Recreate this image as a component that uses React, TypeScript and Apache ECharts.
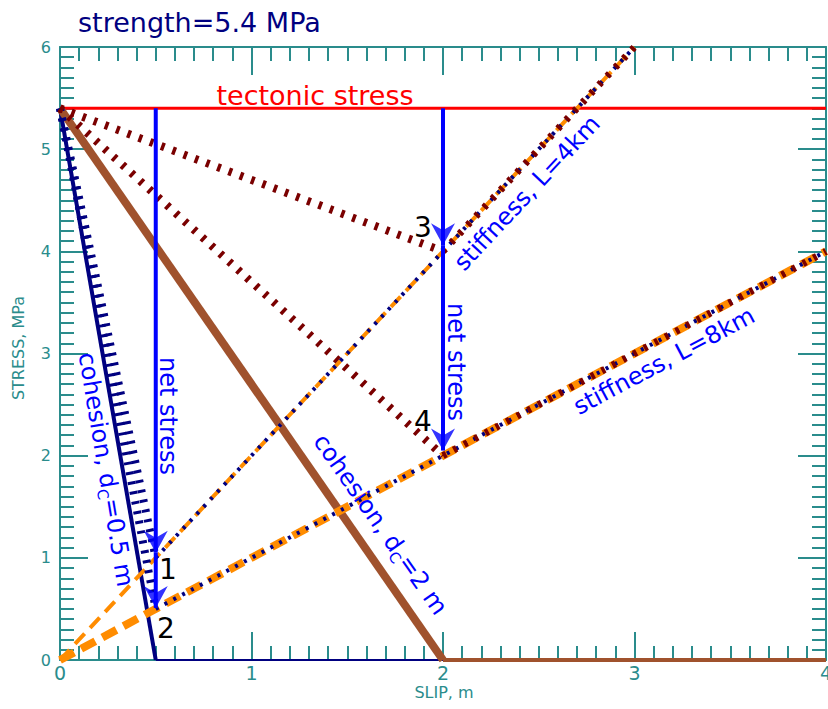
import React, { useEffect, useRef } from "react";
import * as echarts from "echarts";

// ---- data ----
const xTicks = [0, 1, 2, 3, 4];
const yTicks = [0, 1, 2, 3, 4, 5, 6];
const strength = 5.4;
const tectonic = [[0, strength], [4, strength]];
const cohesionShort = [[0, strength], [0.5, 0]]; // d_c = 0.5 m
const cohesionShortFloor = [[0.5, 0], [4, 0]];
const cohesionLong = [[0, strength], [2, 0]]; // d_c = 2 m
const cohesionLongFloor = [[2, 0], [4, 0]];
const stiff4 = [[0, 0], [3, 6]]; // L = 4 km
const stiff8 = [[0, 0], [4, 4]]; // L = 8 km
const hatch1 = [[0, strength], [0.5, 1.0]];
const hatch2 = [[0, strength], [0.5, 0.5]];
const navyOn4 = [[0.5, 1.0], [3, 6]];
const navyOn8 = [[0.5, 0.5], [4, 4]];
const maroon3 = [[0, strength], [2, 4]];
const maroon3up = [[2, 4], [3, 6]];
const maroon4 = [[0, strength], [2, 2]];
const maroon4up = [[2, 2], [4, 4]];
const arrowShafts = [
  [[0.5, strength], [0.5, 1.05]],
  [[0.5, 1.05], [0.5, 0.51]],
  [[2, strength], [2, 4.06]],
  [[2, 4.06], [2, 2.05]],
];
const arrowTips = [[0.5, 1.05], [0.5, 0.51], [2, 4.06], [2, 2.05]];

const TEAL = "#2a8c8c";
const NAVY = "#000080";
const BLUE = "#0000ff";
const ORANGE = "#ff8c00";
const MAROON = "#7a0000";
const BROWN = "#a0522d";
const FONT = "DejaVu Sans";

function ln(data: number[][], color: string, width: number, type: any, z: number) {
  return {
    type: "line",
    data,
    symbol: "none",
    showSymbol: false,
    silent: true,
    z,
    lineStyle: { color, width, type, cap: "butt", join: "miter" },
  };
}

function axisCommon(showLabel: boolean) {
  return {
    type: "value",
    min: 0,
    interval: 1,
    axisLine: { show: true, onZero: false, lineStyle: { color: TEAL, width: 2 } },
    axisTick: { show: true, inside: true, length: 28, lineStyle: { color: TEAL, width: 2 } },
    minorTick: { show: true, splitNumber: 10, length: 14, lineStyle: { color: TEAL, width: 2 } },
    splitLine: { show: false },
    axisLabel: { show: showLabel, color: TEAL, fontSize: 17, fontFamily: FONT },
  };
}

const deg = Math.PI / 180;

export default function App() {
  const ref = useRef<HTMLDivElement>(null);
  useEffect(() => {
    if (!ref.current) return;
    const chart = echarts.init(ref.current, undefined, { renderer: "svg" });
    const series: any[] = [
      ln(tectonic, "#ff0000", 3, "solid", 2),
      ln(cohesionShort, NAVY, 4, "solid", 3),
      ln(cohesionShortFloor, NAVY, 2, "solid", 3),
      ln(cohesionLong, BROWN, 8, "solid", 4),
      ln(cohesionLongFloor, BROWN, 4, "solid", 4),
      ln(stiff4, ORANGE, 4, [14, 8], 5),
      ln(stiff8, ORANGE, 8, [16, 8], 5),
      ln(hatch1, NAVY, 8, [3, 7], 6),
      ln(hatch2, NAVY, 8, [3, 7], 6),
      ln(navyOn4, NAVY, 4, [3, 7], 6),
      ln(navyOn8, NAVY, 4, [3, 7], 6),
      ln(maroon3, MAROON, 8, [3.5, 8.5], 7),
      ln(maroon4, MAROON, 8, [3.5, 8.5], 7),
      ln(maroon3up, MAROON, 7, [3.5, 8.5], 7),
      ln(maroon4up, MAROON, 7, [3.5, 8.5], 7),
      ...arrowShafts.map((s) => ln(s, BLUE, 4, "solid", 8)),
      {
        type: "scatter",
        data: arrowTips,
        symbol: "path://M0,0 L12,7 L24,0 L12,22 Z",
        symbolSize: [24, 22],
        symbolOffset: [0, "-50%"],
        itemStyle: { color: BLUE },
        silent: true,
        z: 9,
      },
    ];

    const txt = (text: string, x: number, y: number, rot: number, color: string, size: number, extra: any = {}) => ({
      type: "text",
      x,
      y,
      rotation: rot * deg,
      z: 100,
      silent: true,
      style: {
        text,
        fill: color,
        fontSize: size,
        fontFamily: FONT,
        align: "center",
        verticalAlign: "middle",
        ...extra,
      },
    });

    const subRich = {
      rich: {
        m: { fontSize: 24, fontFamily: FONT, fill: BLUE, verticalAlign: "top", lineHeight: 30 },
        s: { fontSize: 15, fontFamily: FONT, fill: BLUE, verticalAlign: "top", lineHeight: 30, padding: [12, 0, 0, 0] },
      },
    };

    chart.setOption({
      animation: false,
      grid: { left: 60, right: 2, top: 47, bottom: 49, containLabel: false, outerBoundsMode: "none" },
      xAxis: [
        {
          ...axisCommon(true),
          max: 4,
          position: "bottom",
          axisLabel: { show: true, color: TEAL, fontSize: 19, fontFamily: FONT, margin: 3 },
        },
        { ...axisCommon(false), max: 4, position: "top" },
      ],
      yAxis: [
        {
          ...axisCommon(true),
          max: 6,
          position: "left",
          axisLabel: { show: true, color: TEAL, fontSize: 16, fontFamily: FONT, margin: 9 },
        },
        { ...axisCommon(false), max: 6, position: "right" },
      ],
      series,
      graphic: [
        txt("SLIP, m", 444, 692, 0, TEAL, 16),
        txt("STRESS, MPa", 18, 348, 90, TEAL, 16),
        txt("strength=5.4 MPa", 78, 22, 0, NAVY, 27, { align: "left" }),
        txt("tectonic stress", 315, 95, 0, "#ff0000", 27),
        txt("net stress", 168, 416, -90, BLUE, 24),
        txt("net stress", 456, 362, -90, BLUE, 24),
        txt("{m|cohesion, d}{s|C}{m|=0.5 m}", 103, 470, -80.5, BLUE, 24, subRich),
        txt("{m|cohesion, d}{s|C}{m|=2 m}", 378, 526, -55, BLUE, 24, subRich),
        txt("stiffness, L=4km", 527, 193, 47, BLUE, 24),
        txt("stiffness, L=8km", 664, 361, 28, BLUE, 24),
        txt("1", 168, 569, 0, "#000000", 28),
        txt("2", 166, 628, 0, "#000000", 28),
        txt("3", 423, 227, 0, "#000000", 28),
        txt("4", 423, 421, 0, "#000000", 28),
      ],
    });
    return () => chart.dispose();
  }, []);
  return (
    <div
      ref={ref}
      style={{ position: "fixed", left: 0, top: 0, width: 828, height: 709, background: "#fff" }}
    />
  );
}
